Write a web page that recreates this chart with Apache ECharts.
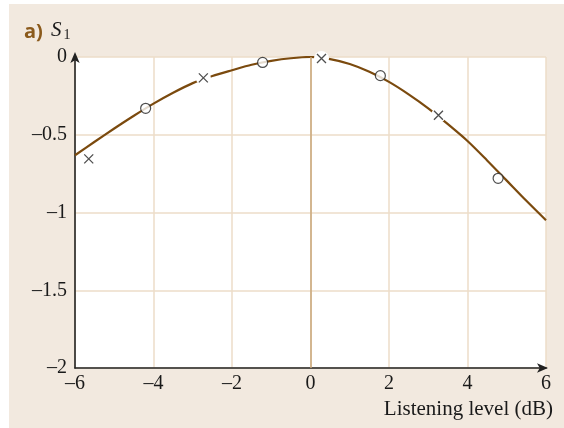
<!DOCTYPE html>
<html>
<head>
<meta charset="utf-8">
<script src="https://cdn.jsdelivr.net/npm/echarts@6/dist/echarts.min.js"></script>
<style>
html,body{margin:0;padding:0;background:#ffffff;}
#chart{width:564px;height:428px;}
</style>
</head>
<body>
<div id="chart"></div>
<script>
// Fitted curve S1 vs listening level
const curveX = [-6, -5.5, -5, -4.5, -4, -3.5, -3, -2.5, -2, -1.5, -1, -0.5, 0, 0.5, 1, 1.5, 2, 2.5, 3, 3.5, 4, 4.5, 5, 5.5, 6];
const curveY = [-0.632, -0.545, -0.46, -0.378, -0.30, -0.23, -0.168, -0.122, -0.085, -0.05, -0.025, -0.008, 0, -0.014, -0.045, -0.095, -0.16, -0.24, -0.33, -0.432, -0.54, -0.665, -0.795, -0.925, -1.05];
// Open-circle measurements
const circleX = [-4.2, -1.22, 1.78, 4.78];
const circleY = [-0.33, -0.035, -0.12, -0.78];
// Cross measurements
const crossX = [-5.65, -2.73, 0.28, 3.26];
const crossY = [-0.655, -0.134, -0.01, -0.375];
// Tick labels
const xTicks = [-6, -4, -2, 0, 2, 4, 6];
const xTickLabels = ['–6', '–4', '–2', '0', '2', '4', '6'];
const yTicks = [-2, -1.5, -1, -0.5, 0];
const yTickLabels = ['–2', '–1.5', '–1', '–0.5', '0'];
const xName = 'Listening level (dB)';
const panelLabel = 'a)';
const yName = 'S';
const yNameSub = '1';

const zip = (a, b) => a.map((v, i) => [v, b[i]]);
const lab = (ticks, labels) => v => {
  const i = ticks.findIndex(t => Math.abs(t - v) < 1e-9);
  return i >= 0 ? labels[i] : '';
};

const serif = '"Liberation Serif", "DejaVu Serif", serif';
const chart = echarts.init(document.getElementById('chart'), null, {renderer: 'canvas'});
chart.setOption({
  animation: false,
  backgroundColor: '#ffffff',
  graphic: [
    {type: 'rect', z: -10, shape: {x: 9, y: 4, width: 555, height: 424}, style: {fill: '#f2e9df'}},
    {type: 'text', z: 10, style: {x: 553, y: 409, text: xName, align: 'right', verticalAlign: 'middle',
      font: '21px ' + serif, fill: '#1a1a1a'}},
    {type: 'text', z: 10, style: {x: 24, y: 32, text: panelLabel, align: 'left', verticalAlign: 'middle',
      font: 'bold 20px "Open Sans", "Noto Sans", sans-serif', fill: '#8b5a1c'}},
    {type: 'text', z: 10, style: {x: 51, y: 30, text: yName, align: 'left', verticalAlign: 'middle',
      font: 'italic 21px ' + serif, fill: '#1a1a1a'}},
    {type: 'text', z: 10, style: {x: 63.5, y: 35.5, text: yNameSub, align: 'left', verticalAlign: 'middle',
      font: '14px ' + serif, fill: '#1a1a1a'}}
  ],
  grid: {left: 75, right: 18, top: 57, bottom: 60, show: true, backgroundColor: '#ffffff', borderWidth: 0},
  xAxis: {
    type: 'value', min: -6, max: 6, interval: 2,
    axisLine: {show: true, onZero: false, symbol: ['none', 'arrow'], symbolSize: [7, 11], symbolOffset: [0, 2],
      lineStyle: {color: '#222', width: 1.6}},
    axisTick: {show: false},
    axisLabel: {formatter: lab(xTicks, xTickLabels), fontFamily: serif, fontSize: 20, color: '#1a1a1a', margin: 6},
    splitLine: {show: true, lineStyle: {color: '#ecdcc8', width: 1.5}}
  },
  yAxis: {
    type: 'value', min: -2, max: 0, interval: 0.5,
    axisLine: {show: true, onZero: false, symbol: ['none', 'arrow'], symbolSize: [7, 11], symbolOffset: [0, 5],
      lineStyle: {color: '#222', width: 1.6}},
    axisTick: {show: false},
    axisLabel: {formatter: lab(yTicks, yTickLabels), fontFamily: serif, fontSize: 20, color: '#1a1a1a', margin: 8},
    splitLine: {show: true, lineStyle: {color: '#ecdcc8', width: 1.5}}
  },
  series: [
    {
      type: 'line', data: zip(curveX, curveY), smooth: 0.3, symbol: 'none', z: 2,
      lineStyle: {color: '#7b4a0e', width: 2.2},
      markLine: {silent: true, symbol: 'none', label: {show: false},
        lineStyle: {color: '#c9a679', width: 1.5, type: 'solid'}, data: [{xAxis: 0}]}
    },
    {
      type: 'scatter', data: zip(crossX, crossY), symbol: 'circle', symbolSize: 15, z: 3,
      itemStyle: {color: '#ffffff', opacity: 1}, silent: true
    },
    {
      type: 'scatter', data: zip(crossX, crossY), symbol: 'path://M0,0L10,10M10,0L0,10', symbolSize: 9, z: 4,
      itemStyle: {color: 'rgba(0,0,0,0)', borderColor: '#222', borderWidth: 1.3}
    },
    {
      type: 'scatter', data: zip(circleX, circleY), symbol: 'circle', symbolSize: 10, z: 4,
      itemStyle: {color: '#ffffff', borderColor: '#222', borderWidth: 1.2}
    }
  ]
});
</script>
</body>
</html>
